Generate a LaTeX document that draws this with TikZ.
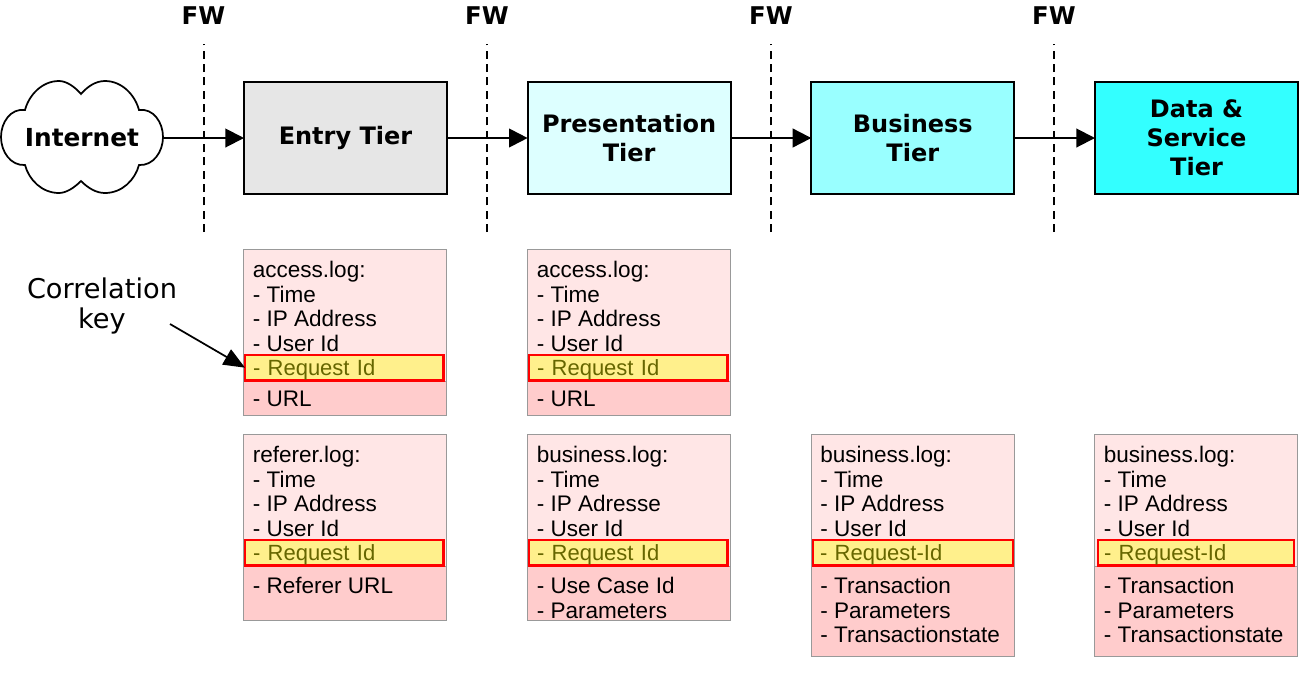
\documentclass[tikz,border=0pt]{standalone}
\usepackage{fontspec}
\setmainfont{Liberation Sans}
\newfontfamily\tierfont{DejaVu Sans}
\usetikzlibrary{arrows.meta,positioning}
\definecolor{entryfill}{HTML}{E6E6E6}
\definecolor{presfill}{HTML}{DDFFFF}
\definecolor{busfill}{HTML}{99FFFF}
\definecolor{datafill}{HTML}{33FFFF}
\definecolor{logfill}{HTML}{FFE6E6}
\definecolor{lowfill}{HTML}{FFCCCC}
\definecolor{keyfill}{HTML}{FFF08C}
\definecolor{keytext}{HTML}{666600}
\definecolor{logedge}{HTML}{999999}

\begin{document}
\begin{tikzpicture}[x=0.75pt,y=-0.75pt,
node distance=60.5pt,
tier/.style={draw,line width=1.5pt,minimum width=152.25pt,minimum height=83.5pt,
  inner sep=0pt,outer sep=0pt,align=center,font=\tierfont\bfseries\fontsize{18}{21.7}\selectfont},
fwlabel/.style={font=\tierfont\bfseries\fontsize{18.3}{20}\selectfont,inner sep=0pt},
fwline/.style={dashed,line width=1.1pt,dash pattern=on 6pt off 4pt},
flow/.style={line width=1.5pt,-{Triangle[length=14pt,width=14pt]}},
logbox/.style={draw=logedge,fill=logfill,line width=0.7pt,minimum width=152.25pt,
  anchor=north west,inner sep=0pt,outer sep=0pt},
loglow/.style={logbox,fill=lowfill},
logkey/.style={draw=red,fill=keyfill,line width=1.8pt,minimum width=149pt,minimum height=19pt,
  anchor=north west,inner sep=0pt,outer sep=0pt,text=keytext,text width=137pt,
  text height=13pt,text depth=1pt,font=\fontsize{16.5}{18.4}\selectfont,align=left},
logtext/.style={anchor=north west,inner xsep=6.8pt,inner ysep=0pt,align=left,
  font=\fontsize{16.9}{18.4}\selectfont}]
\useasboundingbox (0,0) rectangle (1312,672);

\draw[line width=1.3pt,fill=white] (81,94) .. controls (88,86) and (96,81) .. (105,81)
  .. controls (122,81) and (135,95) .. (139,110) .. controls (153,108) and (163,122) .. (163,137)
  .. controls (163,152) and (153,166) .. (139,165) .. controls (135,180) and (122,193) .. (105,193)
  .. controls (96,193) and (88,188) .. (81,181) .. controls (74,188) and (66,193) .. (59,193)
  .. controls (42,193) and (29,180) .. (25,165) .. controls (11,166) and (1,152) .. (1,137)
  .. controls (1,122) and (11,108) .. (25,110) .. controls (29,95) and (42,81) .. (59,81)
  .. controls (66,81) and (74,86) .. (81,94) -- cycle;
\node [tier,draw=none,minimum width=121pt,font=\tierfont\bfseries\fontsize{18.6}{22}\selectfont] (internet) at (82,138) {Internet};

\node [tier,fill=entryfill] (entry) at (345.5,138) {Entry Tier};
\node [tier,fill=presfill,right=of entry] (pres) {Presentation\\Tier};
\node [tier,fill=busfill,right=of pres] (bus) {Business\\Tier};
\node [tier,fill=datafill,right=of bus] (data) {Data \&\\Service\\Tier};

\node [fwlabel] (fw1) at (203.5,16) {FW};
\node [fwlabel] (fw2) at (487,16) {FW};
\node [fwlabel] (fw3) at (771,16) {FW};
\node [fwlabel] (fw4) at (1054,16) {FW};
\coordinate (fw1end) at (204,232);
\coordinate (fw2end) at (487,232);
\coordinate (fw3end) at (771,232);
\coordinate (fw4end) at (1054,232);
\draw[fwline] (fw1end) -- ++(0,-188);
\draw[fwline] (fw2end) -- ++(0,-188);
\draw[fwline] (fw3end) -- ++(0,-188);
\draw[fwline] (fw4end) -- ++(0,-188);

\draw[flow] (internet) -- (entry);
\draw[flow] (entry) -- (pres);
\draw[flow] (pres) -- (bus);
\draw[flow] (bus) -- (data);

\node [logbox,minimum height=124.5pt] (accA) at (243.5,249.5) {};
\node [loglow,minimum height=26pt] (accAlow) at (243.5,381) {};
\node [logkey] (accAkey) at (245,355) {- Request Id};
\node [logtext] (accAtop) at (243.5,261) {access.log:\\- Time\\- IP Address\\- User Id};
\node [logtext] (accArest) at (243.5,391) {- URL};

\node [logbox,minimum height=124.5pt] (accB) at (527.5,249.5) {};
\node [loglow,minimum height=26pt] (accBlow) at (527.5,381) {};
\node [logkey] (accBkey) at (529,355) {- Request Id};
\node [logtext] (accBtop) at (527.5,261) {access.log:\\- Time\\- IP Address\\- User Id};
\node [logtext] (accBrest) at (527.5,391) {- URL};

\node [logbox,minimum height=139.5pt] (refA) at (243.5,434.5) {};
\node [loglow,minimum height=41pt] (refAlow) at (243.5,566) {};
\node [logkey] (refAkey) at (245,540) {- Request Id};
\node [logtext] (refAtop) at (243.5,446) {referer.log:\\- Time\\- IP Address\\- User Id};
\node [logtext] (refArest) at (243.5,577) {- Referer URL};

\node [logbox,minimum height=139.5pt] (busA) at (527.5,434.5) {};
\node [loglow,minimum height=41pt] (busAlow) at (527.5,566) {};
\node [logkey] (busAkey) at (529,540) {- Request Id};
\node [logtext] (busAtop) at (527.5,446) {business.log:\\- Time\\- IP Adresse\\- User Id};
\node [logtext] (busArest) at (527.5,577) {- Use Case Id\\- Parameters};

\node [logbox,minimum height=166.5pt] (busB) at (811,434.5) {};
\node [loglow,minimum height=68pt] (busBlow) at (811,566) {};
\node [logkey,minimum width=150pt,text width=139.5pt] (busBkey) at (813,540) {- Request-Id};
\node [logtext] (busBtop) at (811,446) {business.log:\\- Time\\- IP Address\\- User Id};
\node [logtext] (busBrest) at (811,577) {- Transaction\\- Parameters\\- Transactionstate};

\node [logbox,minimum height=166.5pt] (busC) at (1094.5,434.5) {};
\node [loglow,minimum height=68pt] (busClow) at (1094.5,566) {};
\node [logkey,minimum width=147pt,text width=138pt] (busCkey) at (1098,540) {- Request-Id};
\node [logtext] (busCtop) at (1094.5,446) {business.log:\\- Time\\- IP Address\\- User Id};
\node [logtext] (busCrest) at (1094.5,577) {- Transaction\\- Parameters\\- Transactionstate};

\node [align=center,inner sep=0pt,font=\tierfont\fontsize{20.4}{22.5}\selectfont] (corr) at (102,306) {Correlation\\key};
\coordinate (corrstart) at (170,324);
\draw[line width=1.3pt,-{Triangle[length=16pt,width=13pt]}] (corrstart) -- (accAkey.west);
\end{tikzpicture}
\end{document}
